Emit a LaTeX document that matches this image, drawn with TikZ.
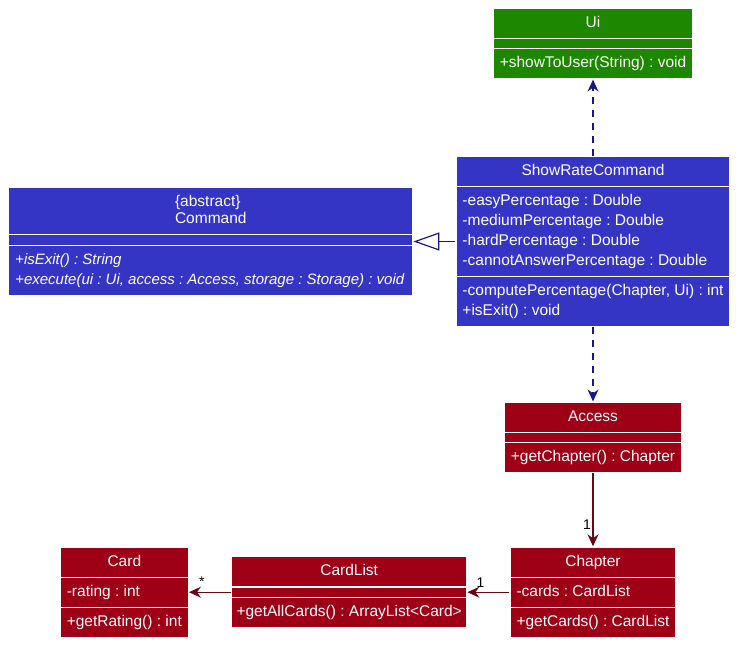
\documentclass[tikz,border=0pt]{standalone}
\usepackage{fontspec}
\setmainfont{Liberation Sans}
\usetikzlibrary{shapes.multipart, arrows.meta, positioning}

\definecolor{clsblue}{RGB}{53,53,197}
\definecolor{clsgreen}{RGB}{30,135,0}
\definecolor{clsred}{RGB}{158,0,22}
\definecolor{linkblue}{RGB}{24,24,128}
\definecolor{linkred}{RGB}{100,10,20}

% member lines of a class part
\newcommand{\members}[1]{\begin{tabular}{@{}l@{}}#1\end{tabular}}
% a part with no members
\newcommand{\nomembers}{\hspace*{1pt}\rule{0pt}{0.1pt}}
\frenchspacing

\begin{document}
\begin{tikzpicture}[
				x=1pt, y=1pt,
				node distance=74pt and 42pt,
				every node/.style={font=\fontsize{15.5}{20}\selectfont\frenchspacing},
				umlclass/.style={rectangle split, rectangle split parts=3, draw=white, line width=1.2pt, text=white,
					rectangle split part align={center,left,left},
					inner xsep=6.5pt, inner ysep=4.5pt},
				uiclass/.style={umlclass, fill=clsgreen},
				cmdclass/.style={umlclass, fill=clsblue},
				dataclass/.style={umlclass, fill=clsred},
				depend/.style={linkblue, line width=1.2pt, dash pattern=on 7pt off 6pt, -{Stealth[length=12pt, width=11pt, inset=4pt]}},
				inherit/.style={linkblue, line width=1.2pt, -{Triangle[open, length=26pt, width=18pt, fill=white]}},
				assoc/.style={linkred, line width=1.2pt, -{Stealth[length=12pt, width=11pt, inset=4pt]}},
				mult/.style={text=black, inner sep=1.5pt, font=\fontsize{14}{16}\selectfont}
				]
				\useasboundingbox (0,0) rectangle (743,-650);
				% Classes
				\node (showrate) [cmdclass, minimum width=272pt] at (593,-241.5) {\strut ShowRateCommand
					\nodepart{two}\members{-easyPercentage : Double\\ -mediumPercentage : Double\\ -hardPercentage : Double\\ -cannotAnswerPercentage : Double}
					\nodepart{three}\members{-computePercentage(Chapter, Ui) : int\\ +isExit() : void}};
				\node (ui) [uiclass, minimum width=199pt, above=76pt of showrate] {\strut Ui
					\nodepart{two}\nomembers
					\nodepart{three}\strut +showToUser(String) : void};
				\node (command) [cmdclass, minimum width=404pt, left=of showrate] {\members{\{abstract\}\\[-3pt] Command}
					\nodepart{two}\nomembers
					\nodepart{three}\fontsize{15}{20}\selectfont\members{+\textit{isExit() : String}\\ +\textit{execute(ui : Ui, access : Access, storage : Storage) : void}}};
				\node (access) [dataclass, minimum width=175pt, below=of showrate] {\strut Access
					\nodepart{two}\nomembers
					\nodepart{three}\strut +getChapter() : Chapter};
				\node (chapter) [dataclass, minimum width=166pt, below=73pt of access] {\strut Chapter
					\nodepart{two}\strut -cards : CardList
					\nodepart{three}\strut +getCards() : CardList};
				\node (cardlist) [dataclass, minimum width=234pt, inner xsep=5pt, left=of chapter] {\strut CardList
					\nodepart{two}\nomembers
					\nodepart{three}\strut +getAllCards() : ArrayList<Card>};
				\node (card) [dataclass, minimum width=126pt, left=of cardlist] {\strut Card
					\nodepart{two}\strut -rating : int
					\nodepart{three}\strut +getRating() : int};

				% Arrows
				\draw [depend] (showrate.north) -- (ui.south);
				\draw [depend] (showrate.south) -- (access.north);
				\draw [inherit] (showrate.west) -- (command.east);
				\draw [assoc] (access.south) -- node[mult, pos=0.71, left] {1} (chapter.north);
				\draw [assoc] (chapter.two west) -- node[mult, pos=0.69, above, yshift=3pt] {1} (cardlist.two east);
				\draw [assoc] (cardlist.two west) -- node[mult, pos=0.69, above, yshift=4pt] {*} (card.two east);
			\end{tikzpicture}
\end{document}
